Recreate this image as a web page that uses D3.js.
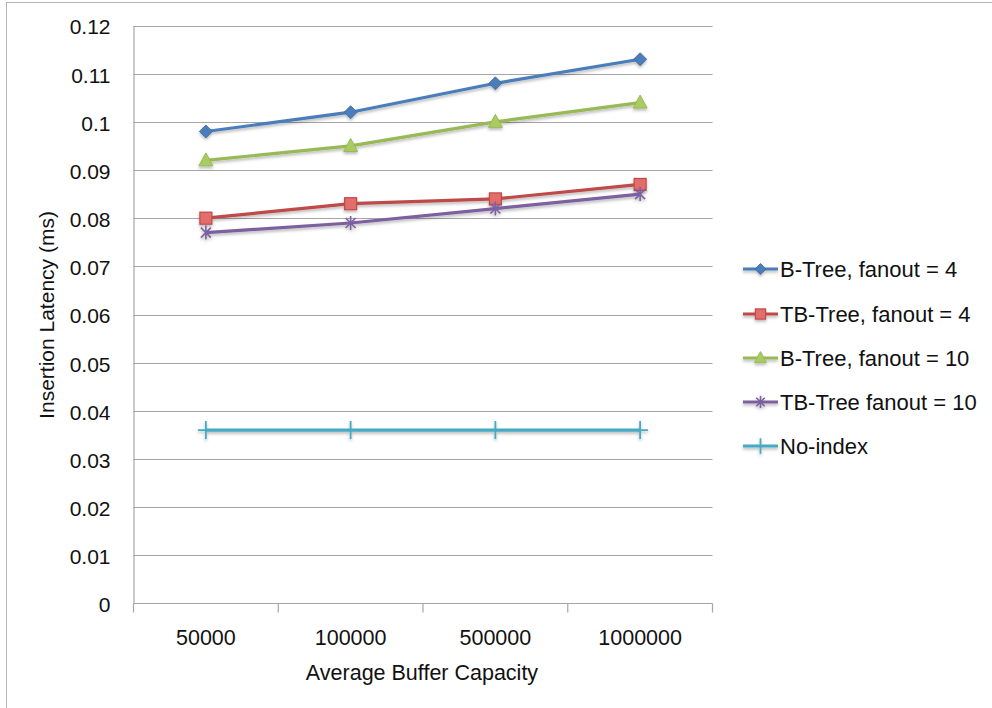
<!DOCTYPE html>
<html>
<head>
<meta charset="utf-8">
<script src="https://cdn.jsdelivr.net/npm/d3@7"></script>
<style>
  html, body { margin: 0; padding: 0; background: #fff; }
  svg { display: block; font-family: "Liberation Sans", Arial, sans-serif; }
</style>
</head>
<body>
<svg id="chart" width="992" height="708"></svg>
<script>
// Insertion latency per buffer capacity, one series per index structure
const categories = ["50000", "100000", "500000", "1000000"];
const seriesNames = ["B-Tree, fanout = 4", "TB-Tree, fanout = 4", "B-Tree, fanout = 10", "TB-Tree fanout = 10", "No-index"];
const bTree4  = [0.098, 0.102, 0.108, 0.113];
const tbTree4 = [0.080, 0.083, 0.084, 0.087];
const bTree10 = [0.092, 0.095, 0.100, 0.104];
const tbTree10 = [0.077, 0.079, 0.082, 0.085];
const noIndex = [0.036, 0.036, 0.036, 0.036];
const yTicks = [0, 0.01, 0.02, 0.03, 0.04, 0.05, 0.06, 0.07, 0.08, 0.09, 0.1, 0.11, 0.12];
const yTitle = "Insertion Latency (ms)";
const xTitle = "Average Buffer Capacity";

const series = [
  { name: seriesNames[0], values: bTree4,  color: "#4a7ebb", marker: "diamond" },
  { name: seriesNames[1], values: tbTree4, color: "#be4b48", marker: "square" },
  { name: seriesNames[2], values: bTree10, color: "#98b954", marker: "triangle" },
  { name: seriesNames[3], values: tbTree10, color: "#7d60a0", marker: "star" },
  { name: seriesNames[4], values: noIndex, color: "#46aac5", marker: "plus" }
];

const svg = d3.select("#chart");
const plot = { left: 133.5, right: 712.5, top: 25.5, bottom: 603.5 };

// soft drop shadow used under lines and markers
const defs = svg.append("defs");
const f = defs.append("filter").attr("id", "shadow")
  .attr("x", "-30%").attr("y", "-30%").attr("width", "160%").attr("height", "180%");
f.append("feDropShadow").attr("dx", 0).attr("dy", 2).attr("stdDeviation", 1.5)
  .attr("flood-color", "#000").attr("flood-opacity", 0.28);

// outer chart frame
svg.append("rect").attr("x", 6.5).attr("y", 2.5).attr("width", 1000).attr("height", 800)
  .attr("fill", "none").attr("stroke", "#b3b3b3").attr("stroke-width", 1);

const x = d3.scaleBand().domain(categories).range([plot.left, plot.right]);
const y = d3.scaleLinear().domain([0, 0.12]).range([plot.bottom, plot.top]);

// horizontal gridlines
svg.append("g").selectAll("line").data(yTicks.filter(d => d > 0)).join("line")
  .attr("x1", plot.left).attr("x2", plot.right)
  .attr("y1", d => Math.round(y(d)) + 0.5).attr("y2", d => Math.round(y(d)) + 0.5)
  .attr("stroke", "#a6a6a6").attr("stroke-width", 1.2);

// y axis
const yAxis = svg.append("g").attr("transform", `translate(${plot.left},0)`)
  .call(d3.axisLeft(y).tickValues(yTicks).tickSize(0).tickPadding(23)
    .tickFormat(d => d === 0 ? "0" : String(+d.toFixed(2))));
yAxis.select(".domain").attr("stroke", "#a6a6a6").attr("stroke-width", 1.2);
yAxis.selectAll("text").attr("font-size", 21).attr("fill", "#111")
  .attr("font-family", "Liberation Sans, Arial, sans-serif").attr("dy", "0.4em");

// x axis with ticks at category boundaries
const xAxisG = svg.append("g").attr("transform", `translate(0,${plot.bottom})`);
xAxisG.append("line").attr("x1", plot.left).attr("x2", plot.right)
  .attr("stroke", "#a6a6a6").attr("stroke-width", 1.2);
const edges = categories.map(c => x(c)).concat([x(categories[categories.length - 1]) + x.bandwidth()]);
xAxisG.selectAll("line.tick").data(edges).join("line").attr("class", "tick")
  .attr("x1", d => d).attr("x2", d => d).attr("y1", 0).attr("y2", 9)
  .attr("stroke", "#a6a6a6").attr("stroke-width", 1.2);
xAxisG.selectAll("text").data(categories).join("text")
  .attr("x", d => x(d) + x.bandwidth() / 2).attr("y", 41)
  .attr("text-anchor", "middle").attr("font-size", 21.5).attr("fill", "#111")
  .text(d => d);

// axis titles
svg.append("text").attr("x", (plot.left + plot.right) / 2 - 1).attr("y", 680)
  .attr("text-anchor", "middle").attr("font-size", 21.5).attr("fill", "#111").text(xTitle);
svg.append("text").attr("transform", "translate(54,315) rotate(-90)")
  .attr("text-anchor", "middle").attr("font-size", 21).attr("fill", "#111").text(yTitle);

// marker drawing
function drawMarker(g, type, color, scale) {
  const k = scale || 1;
  const dark = d3.color(color).darker(0.6).formatHex();
  if (type === "diamond") {
    g.append("path").attr("d", `M0,${-6.5*k}L${6.5*k},0L0,${6.5*k}L${-6.5*k},0Z`)
      .attr("fill", color).attr("stroke", dark).attr("stroke-width", 0.8);
  } else if (type === "square") {
    g.append("rect").attr("x", -6*k).attr("y", -6*k).attr("width", 12*k).attr("height", 12*k)
      .attr("fill", "#e26d6a").attr("stroke", color).attr("stroke-width", 1.2);
  } else if (type === "triangle") {
    g.append("path").attr("d", `M0,${-7.5*k}L${7*k},${5.5*k}L${-7*k},${5.5*k}Z`)
      .attr("fill", "#a9cc62").attr("stroke", color).attr("stroke-width", 1);
  } else if (type === "star") {
    g.append("path").attr("d", `M${-5*k},${-5*k}L${5*k},${5*k}M${-5*k},${5*k}L${5*k},${-5*k}M0,${-7*k}L0,${7*k}`)
      .attr("stroke", color).attr("stroke-width", 1.6).attr("fill", "none");
  } else if (type === "plus") {
    g.append("path").attr("d", `M${-8*k},0L${8*k},0M0,${-9*k}L0,${9*k}`)
      .attr("stroke", color).attr("stroke-width", 1.8).attr("fill", "none");
  }
}

const line = d3.line().x((d, i) => x(categories[i]) + x.bandwidth() / 2).y(d => y(d));

series.forEach(s => {
  const g = svg.append("g").attr("filter", "url(#shadow)");
  g.append("path").datum(s.values).attr("d", line)
    .attr("fill", "none").attr("stroke", s.color).attr("stroke-width", 3.2)
    .attr("stroke-linejoin", "round");
  s.values.forEach((v, i) => {
    const m = g.append("g")
      .attr("transform", `translate(${x(categories[i]) + x.bandwidth() / 2},${y(v)})`);
    drawMarker(m, s.marker, s.color);
  });
});

// legend
const legendY = [269, 314, 358, 402, 446];
series.forEach((s, i) => {
  const g = svg.append("g").attr("transform", `translate(743,${legendY[i]})`);
  const sg = g.append("g").attr("filter", "url(#shadow)");
  sg.append("line").attr("x1", 0).attr("x2", 35).attr("stroke", s.color).attr("stroke-width", 3.2);
  const m = sg.append("g").attr("transform", "translate(17.5,0)");
  drawMarker(m, s.marker, s.color, 0.85);
  g.append("text").attr("x", 37).attr("y", 0).attr("dy", "0.36em")
    .attr("font-size", 22).attr("fill", "#111").text(s.name);
});
</script>
</body>
</html>
